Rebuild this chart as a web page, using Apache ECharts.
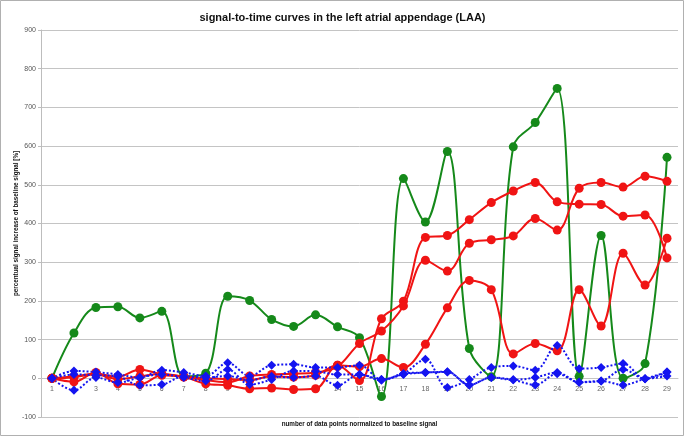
<!DOCTYPE html>
<html>
<head>
<meta charset="utf-8">
<script src="https://cdn.jsdelivr.net/npm/echarts@6/dist/echarts.min.js"></script>
<style>html,body{margin:0;padding:0;background:#fff}#c{width:685px;height:437px}</style>
</head>
<body>
<div id="c"></div>
<script>
var categories = ['1','2','3','4','5','6','7','8','9','10','11','12','13','14','15','16','17','18','19','20','21','22','23','24','25','26','27','28','29'];
var yTicks = [-100,0,100,200,300,400,500,600,700,800,900];

var green1 = [0,117,183,185,156,173,5,13,212,201,152,134,164,133,105,-47,516,404,586,77,4,598,661,749,5,369,0,38,571];

var red1 = [0,-9,15,-14,-16,8,3,-14,-18,-27,-25,-29,-27,34,-6,154,199,364,369,410,454,484,506,456,450,449,419,422,311];
var red2 = [0,5,12,4,23,10,5,-5,-10,6,10,12,15,30,90,122,187,305,277,349,358,368,413,383,491,506,494,522,509];
var red3 = [0,3,10,-2,5,12,4,0,-2,-5,5,3,8,34,30,51,28,88,182,253,229,63,90,71,229,135,323,241,362];

var blue1 = [0,19,16,10,2,21,15,6,40,6,34,36,28,28,34,-3,12,49,-24,-3,28,32,21,85,25,28,38,-1,16];
var blue2 = [0,-31,2,-11,2,10,2,-7,23,-16,-3,19,18,10,10,-3,10,15,16,-17,2,-4,2,15,-10,-7,23,-1,6];
var blue3 = [0,10,8,5,-18,-16,5,2,6,-5,5,2,6,-18,10,-5,12,15,17,-17,2,-4,-17,12,-10,-7,-17,-1,16];

var GREEN = '#15891a', RED = '#f01414', BLUE = '#1414f0';
var FONT = 'Liberation Sans, Arial, sans-serif';
function lineSeries(data, color, sym, size, type) {
  return {
    type: 'line', data: data, smooth: 0.35,
    symbol: sym, symbolSize: size, showSymbol: true,
    lineStyle: {color: color, width: 2, type: type},
    itemStyle: {color: color},
    emphasis: {disabled: true}
  };
}
var chart = echarts.init(document.getElementById('c'), null, {renderer: 'canvas'});
chart.setOption({
  animation: false,
  backgroundColor: '#fff',
  title: {
    text: 'signal-to-time curves in the left atrial appendage (LAA)',
    left: 'center', top: 7,
    textStyle: {fontFamily: FONT, fontSize: 11, fontWeight: 'bold', color: '#111'}
  },
  graphic: [{type: 'rect', shape: {x: 0.5, y: 0.5, width: 683, height: 435}, style: {fill: null, stroke: '#b0b0b0', lineWidth: 1}, silent: true}],
  grid: {left: 41, right: 7, top: 30, bottom: 20, containLabel: false, outerBoundsMode: 'none'},
  xAxis: {
    type: 'category', data: categories, boundaryGap: true,
    name: 'number of data points normalized to baseline signal',
    nameLocation: 'middle', nameGap: 43, nameMoveOverlap: false,
    nameTextStyle: {fontFamily: FONT, fontSize: 6.3, fontWeight: 'bold', color: '#111'},
    axisLine: {onZero: false, lineStyle: {color: '#c4c4c4'}},
    offset: -38.7,
    axisTick: {show: false},
    axisLabel: {interval: 0, fontSize: 7, color: '#666', margin: 7, fontFamily: FONT},
    splitLine: {show: false}
  },
  yAxis: {
    type: 'value', min: yTicks[0], max: yTicks[yTicks.length-1], interval: 100,
    name: 'percentual signal increase of baseline signal [%]',
    nameLocation: 'middle', nameGap: 22, nameRotate: 90, nameMoveOverlap: false,
    nameTextStyle: {fontFamily: FONT, fontSize: 6.3, fontWeight: 'bold', color: '#111'},
    axisLine: {show: true, lineStyle: {color: '#bdbdbd'}},
    axisTick: {show: true, length: 3, lineStyle: {color: '#bdbdbd'}},
    axisLabel: {fontSize: 7, color: '#555', margin: 5, fontFamily: FONT},
    splitLine: {show: true, lineStyle: {color: '#c4c4c4', width: 1}}
  },
  series: [
    lineSeries(green1, GREEN, 'circle', 9, 'solid'),
    lineSeries(red1, RED, 'circle', 9, 'solid'),
    lineSeries(red2, RED, 'circle', 9, 'solid'),
    lineSeries(red3, RED, 'circle', 9, 'solid'),
    lineSeries(blue1, BLUE, 'diamond', 9, 'dotted'),
    lineSeries(blue2, BLUE, 'diamond', 9, 'dotted'),
    lineSeries(blue3, BLUE, 'diamond', 9, 'dotted')
  ]
});
</script>
</body>
</html>
